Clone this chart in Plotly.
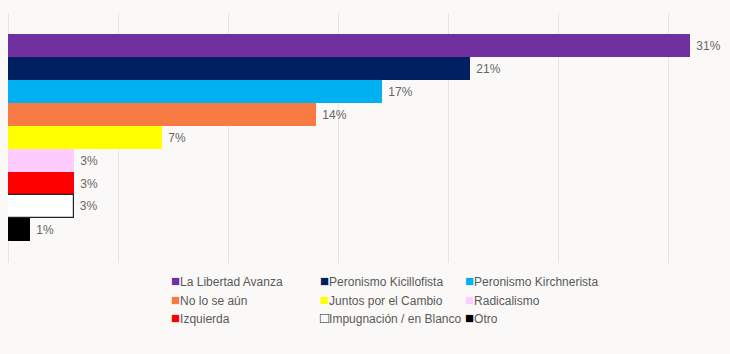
import plotly.graph_objects as go

categories = ["La Libertad Avanza", "Peronismo Kicillofista", "Peronismo Kirchnerista",
              "No lo se aún", "Juntos por el Cambio", "Radicalismo", "Izquierda",
              "Impugnación / en Blanco", "Otro"]
values = [31, 21, 17, 14, 7, 3, 3, 3, 1]
colors = ["#7030A0", "#002060", "#00B0F0", "#F87B43", "#FFFF00", "#FFCCFF", "#FF0000", "#FFFFFF", "#000000"]
line_widths = [0, 0, 0, 0, 0, 0, 0, 1.2, 0]
legend_symbols = ["■", "■", "■", "■", "■", "■", "■", "□", "■"]
legend_symbol_colors = ["#7030A0", "#002060", "#00B0F0", "#F87B43", "#FFFF00", "#FFCCFF", "#FF0000", "#222222", "#000000"]

W, H = 730, 354
L, R, T, B = 8, 8, 13, 91
pw, ph = W - L - R, H - T - B

fig = go.Figure()
fig.add_trace(go.Bar(
    y=categories, x=values, orientation="h",
    marker=dict(color=colors, line=dict(color="#222222", width=line_widths)),
    text=[f" {v}%" for v in values], textposition="outside",
    textfont=dict(family="Liberation Sans Narrow, Arial Narrow, Liberation Sans, Arial", size=12, color="#666666"),
    cliponaxis=False, showlegend=False, hoverinfo="skip",
))

# legend as annotations (3 columns, row-major)
col_px = [169, 317.5, 463]
row_px = [280.5, 299.5, 317.5]
for i, (lab, sym, sc) in enumerate(zip(categories, legend_symbols, legend_symbol_colors)):
    r, c = divmod(i, 3)
    fig.add_annotation(
        x=(col_px[c] - L) / pw, y=(H - B - row_px[r]) / ph, xref="paper", yref="paper",
        xanchor="left", yanchor="middle", showarrow=False,
        text=f"<span style='color:{sc};font-size:15px'>{sym}</span>{lab}",
        font=dict(family="Liberation Sans, Arial", size=12, color="#595959"),
    )

fig.update_layout(
    width=W, height=H, margin=dict(l=L, r=R, t=T, b=B),
    paper_bgcolor="#FAF9F7", plot_bgcolor="#FAF9F7",
    bargap=0, showlegend=False,
    xaxis=dict(range=[0, pw / 22.0], dtick=5, showticklabels=False, ticks="",
               showgrid=True, gridcolor="#E6E5E3", gridwidth=1,
               zeroline=True, zerolinecolor="#E6E5E3", zerolinewidth=1, fixedrange=True),
    yaxis=dict(range=[9.458, -1.427], showticklabels=False, ticks="", showgrid=False,
               zeroline=False, fixedrange=True),
)
fig.write_html("out.html")
